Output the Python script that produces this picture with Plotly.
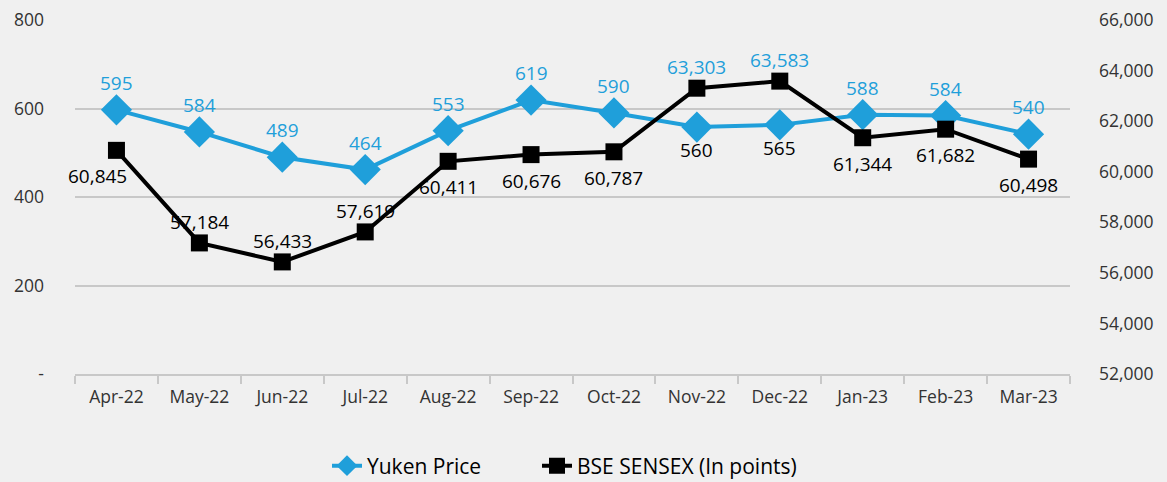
import plotly.graph_objects as go

months = ["Apr-22", "May-22", "Jun-22", "Jul-22", "Aug-22", "Sep-22",
          "Oct-22", "Nov-22", "Dec-22", "Jan-23", "Feb-23", "Mar-23"]
yuken_price = [597, 547, 490, 462, 550, 619, 590, 558, 563, 586, 584, 542]
sensex = [60845, 57184, 56433, 57619, 60411, 60676, 60787, 63303, 63583, 61344, 61682, 60498]

blue_labels = ["595", "584", "489", "464", "553", "619", "590", "63,303", "63,583", "588", "584", "540"]
black_labels = ["60,845", "57,184", "56,433", "57,619", "60,411", "60,676", "60,787", "560", "565", "61,344", "61,682", "60,498"]

left_ticks = [0, 200, 400, 600, 800]
left_ticktext = ["-", "200", "400", "600", "800"]
right_ticks = [52000, 54000, 56000, 58000, 60000, 62000, 64000, 66000]
right_ticktext = ["52,000", "54,000", "56,000", "58,000", "60,000", "62,000", "64,000", "66,000"]

BLUE = "#1f9fda"
FONT = "Open Sans"
LBL = 19
TICK = 17.5

fig = go.Figure()
fig.add_trace(go.Scatter(
    x=months, y=yuken_price, name="Yuken Price", mode="lines+markers",
    line=dict(color=BLUE, width=4),
    marker=dict(symbol="diamond", size=24, color=BLUE),
    yaxis="y", cliponaxis=False, legend="legend"))
fig.add_trace(go.Scatter(
    x=months, y=sensex, name="BSE SENSEX (In points)", mode="lines+markers",
    line=dict(color="black", width=4),
    marker=dict(symbol="square", size=17, color="black"),
    yaxis="y2", cliponaxis=False, legend="legend2"))

# blue labels: above Yuken points except Nov/Dec (above Sensex)
for i, m in enumerate(months):
    if i in (7, 8):
        fig.add_annotation(x=m, y=sensex[i], yref="y2", text=blue_labels[i],
                           showarrow=False, yshift=21, font=dict(color=BLUE, size=LBL, family=FONT))
    else:
        fig.add_annotation(x=m, y=yuken_price[i], yref="y", text=blue_labels[i],
                           showarrow=False, yshift=27, font=dict(color=BLUE, size=LBL, family=FONT))

# black labels
for i, m in enumerate(months):
    if i in (7, 8):
        fig.add_annotation(x=m, y=yuken_price[i], yref="y", text=black_labels[i],
                           showarrow=False, yshift=-23, font=dict(color="black", size=LBL, family=FONT))
    elif i in (1, 2, 3):
        fig.add_annotation(x=m, y=sensex[i], yref="y2", text=black_labels[i],
                           showarrow=False, yshift=21, font=dict(color="black", size=LBL, family=FONT))
    else:
        fig.add_annotation(x=m, y=sensex[i], yref="y2", text=black_labels[i],
                           showarrow=False, yshift=-26, xshift=(-19 if i == 0 else 0),
                           font=dict(color="black", size=LBL, family=FONT))

leg_common = dict(orientation="h", xref="container", yref="container", xanchor="left",
                  yanchor="middle", y=(482 - 466) / 482,
                  font=dict(size=21, color="black", family=FONT), bgcolor="rgba(0,0,0,0)")

fig.update_layout(
    width=1167, height=482,
    margin=dict(l=75, r=97, t=20, b=108, autoexpand=False),
    paper_bgcolor="#f0f0f0", plot_bgcolor="#f0f0f0",
    font=dict(family=FONT, color="#333333", size=TICK),
    showlegend=True,
    legend=dict(x=327 / 1167, **leg_common),
    legend2=dict(x=537 / 1167, **leg_common),
    xaxis=dict(type="category", range=[-0.5, 11.5], showgrid=False, showline=True,
               linecolor="#c8c8c8", linewidth=2,
               ticks="outside", tickson="boundaries", ticklen=8, tickcolor="#c8c8c8", tickwidth=2,
               tickfont=dict(size=TICK, color="#333333"), ticklabelstandoff=6, automargin=False),
    yaxis=dict(range=[0, 800], tickvals=left_ticks, ticktext=left_ticktext,
               showgrid=True, gridcolor="#c8c8c8", gridwidth=2, zeroline=False,
               showline=False, tickfont=dict(size=TICK, color="#333333"), ticklabelstandoff=30,
               automargin=False),
    yaxis2=dict(range=[52000, 66000], tickvals=right_ticks, ticktext=right_ticktext,
                overlaying="y", side="right", showgrid=False, zeroline=False, showline=False,
                tickfont=dict(size=TICK, color="#333333"), ticklabelstandoff=28, automargin=False),
)

fig.write_html("out.html", config={"displayModeBar": False},
               post_script="document.body.style.margin='0';document.body.style.overflow='hidden';")
